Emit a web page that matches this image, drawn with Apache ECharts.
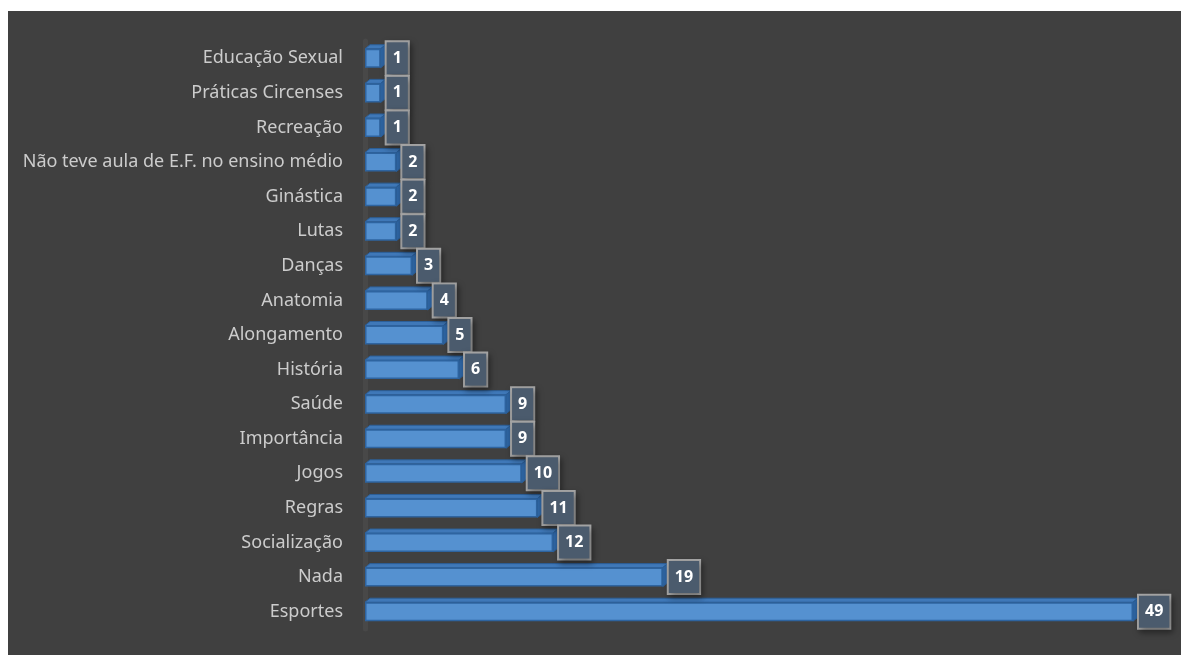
<!DOCTYPE html>
<html>
<head>
<meta charset="utf-8">
<script src="https://cdn.jsdelivr.net/npm/echarts@6/dist/echarts.min.js"></script>
<style>
  html, body { margin: 0; padding: 0; background: #ffffff; }
  #main { position: absolute; left: 8px; top: 11px; width: 1173px; height: 644px; background: #404040; }
</style>
</head>
<body>
<div id="main"></div>
<script>
// top to bottom, as in the picture
const categories = [
  'Educação Sexual', 'Práticas Circenses', 'Recreação',
  'Não teve aula de E.F. no ensino médio', 'Ginástica', 'Lutas',
  'Danças', 'Anatomia', 'Alongamento', 'História', 'Saúde',
  'Importância', 'Jogos', 'Regras', 'Socialização', 'Nada', 'Esportes'
];
const values = [1, 1, 1, 2, 2, 2, 3, 4, 5, 6, 9, 9, 10, 11, 12, 19, 49];

const chartDom = document.getElementById('main');
const myChart = echarts.init(chartDom, null, { renderer: 'canvas' });

const BAR_H = 19;   // front face height
const DX = 5, DY = 4; // depth of the 3D effect

// top and right faces of each bar
function renderFaces(params, api) {
  const v = api.value(0);
  const idx = api.value(1);
  const p0 = api.coord([0, idx]);
  const p1 = api.coord([v, idx]);
  const yTop = p0[1] - BAR_H / 2;
  const yBot = p0[1] + BAR_H / 2;
  return {
    type: 'group',
    children: [
      {
        type: 'polygon',
        shape: { points: [[p0[0], yTop], [p1[0], yTop], [p1[0] + DX, yTop - DY], [p0[0] + DX, yTop - DY]] },
        style: { fill: '#3f78b8', stroke: '#2c5f98', lineWidth: 1 }
      },
      {
        type: 'polygon',
        shape: { points: [[p1[0], yTop], [p1[0] + DX, yTop - DY], [p1[0] + DX, yBot - DY], [p1[0], yBot]] },
        style: { fill: '#2f66a4', stroke: '#2c5f98', lineWidth: 1 }
      }
    ]
  };
}

let option;
myChart.setOption(
  (option = {
    animation: false,
    grid: {
      left: 357,
      right: 48,
      top: 30,
      bottom: 26,
      containLabel: false
    },
    xAxis: {
      type: 'value',
      min: 0,
      max: 49,
      show: false
    },
    yAxis: {
      type: 'category',
      inverse: true,
      data: categories,
      axisTick: { show: false },
      axisLine: { show: true, lineStyle: { color: '#484848', width: 5 } },
      axisLabel: {
        margin: 22,
        color: '#cccccc',
        fontFamily: 'Noto Sans',
        fontSize: 18
      }
    },
    series: [
      {
        type: 'custom',
        renderItem: renderFaces,
        encode: { x: 0, y: 1 },
        data: values.map((v, i) => [v, i]),
        z: 1
      },
      {
        type: 'bar',
        data: values,
        barWidth: BAR_H,
        z: 2,
        itemStyle: {
          color: '#5591d0',
          borderColor: '#2e64a0',
          borderWidth: 1.5
        },
        label: {
          show: true,
          position: 'right',
          distance: DX + 1,
          color: '#ffffff',
          fontFamily: 'Noto Sans',
          fontWeight: 'bold',
          fontSize: 16,
          lineHeight: 18,
          backgroundColor: '#4b5b6d',
          borderColor: '#a6a6a6',
          borderWidth: 2,
          padding: [7, 6, 7, 6],
          shadowColor: 'rgba(0,0,0,0.35)',
          shadowBlur: 6,
          shadowOffsetX: 2,
          shadowOffsetY: 3
        }
      }
    ]
  })
);

option && myChart.setOption(option);
</script>
</body>
</html>
